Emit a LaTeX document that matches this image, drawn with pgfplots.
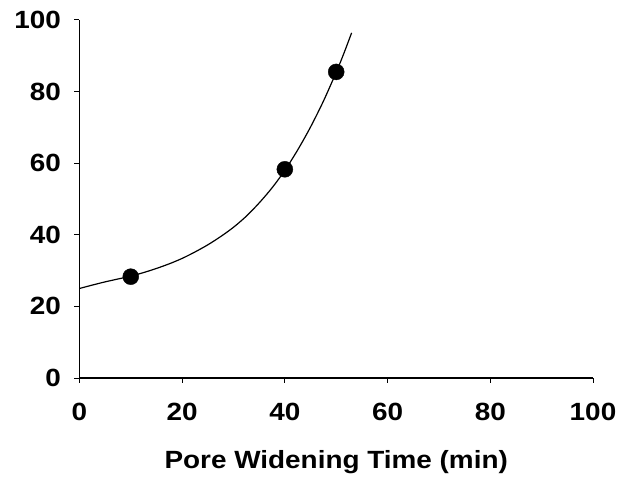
\documentclass[border=0pt]{standalone}
\usepackage{fontspec}
\setmainfont[FakeStretch=1.12]{Liberation Sans}
\usepackage{pgfplots}
\pgfplotsset{compat=1.18}
\begin{document}
\begin{tikzpicture}
\path[use as bounding box] (0bp,0bp) rectangle (621bp,481bp);
\begin{axis}[
  at={(79.4bp,103bp)}, anchor=south west,
  scale only axis, width=513.6bp, height=358bp,
  xmin=0, xmax=100, ymin=0, ymax=100,
  axis x line*=bottom, axis y line*=left,
  axis line style={line width=1.6bp, black},
  xtick={0,20,...,100}, ytick={0,20,...,100},
  tick align=outside, major tick length=5bp,
  tick style={line width=1bp, black},
  /pgf/number format/assume math mode=true,
  ticklabel style={font=\fontsize{25}{30}\selectfont\bfseries},
  yticklabel style={xshift=-10bp},
  xticklabel style={yshift=-17bp},
  xlabel={Pore Widening Time (min)},
  xlabel style={font=\fontsize{25}{30}\selectfont\bfseries, yshift=-22bp},
  clip=false,
]
\addplot[black, line width=1.2bp, smooth] coordinates {
(0,25.00) (2.5,25.95) (5,26.85) (7.5,27.65) (10,28.45) (12.5,29.45)
(15,30.6) (17.5,31.9) (20,33.4) (22.5,35.2) (25,37.2) (27.5,39.5)
(30,42.1) (32.5,45.2) (35,48.9) (37.5,53.1) (40,58.0) (42.5,63.7)
(45,70.1) (47.5,77.3) (50,85.4) (51.5,90.7) (53,96.4)
};
\addplot[only marks, mark=*, mark size=8bp, black] coordinates {
(10,28.3) (40,58.3) (50,85.5)
};
\end{axis}
\end{tikzpicture}
\end{document}
